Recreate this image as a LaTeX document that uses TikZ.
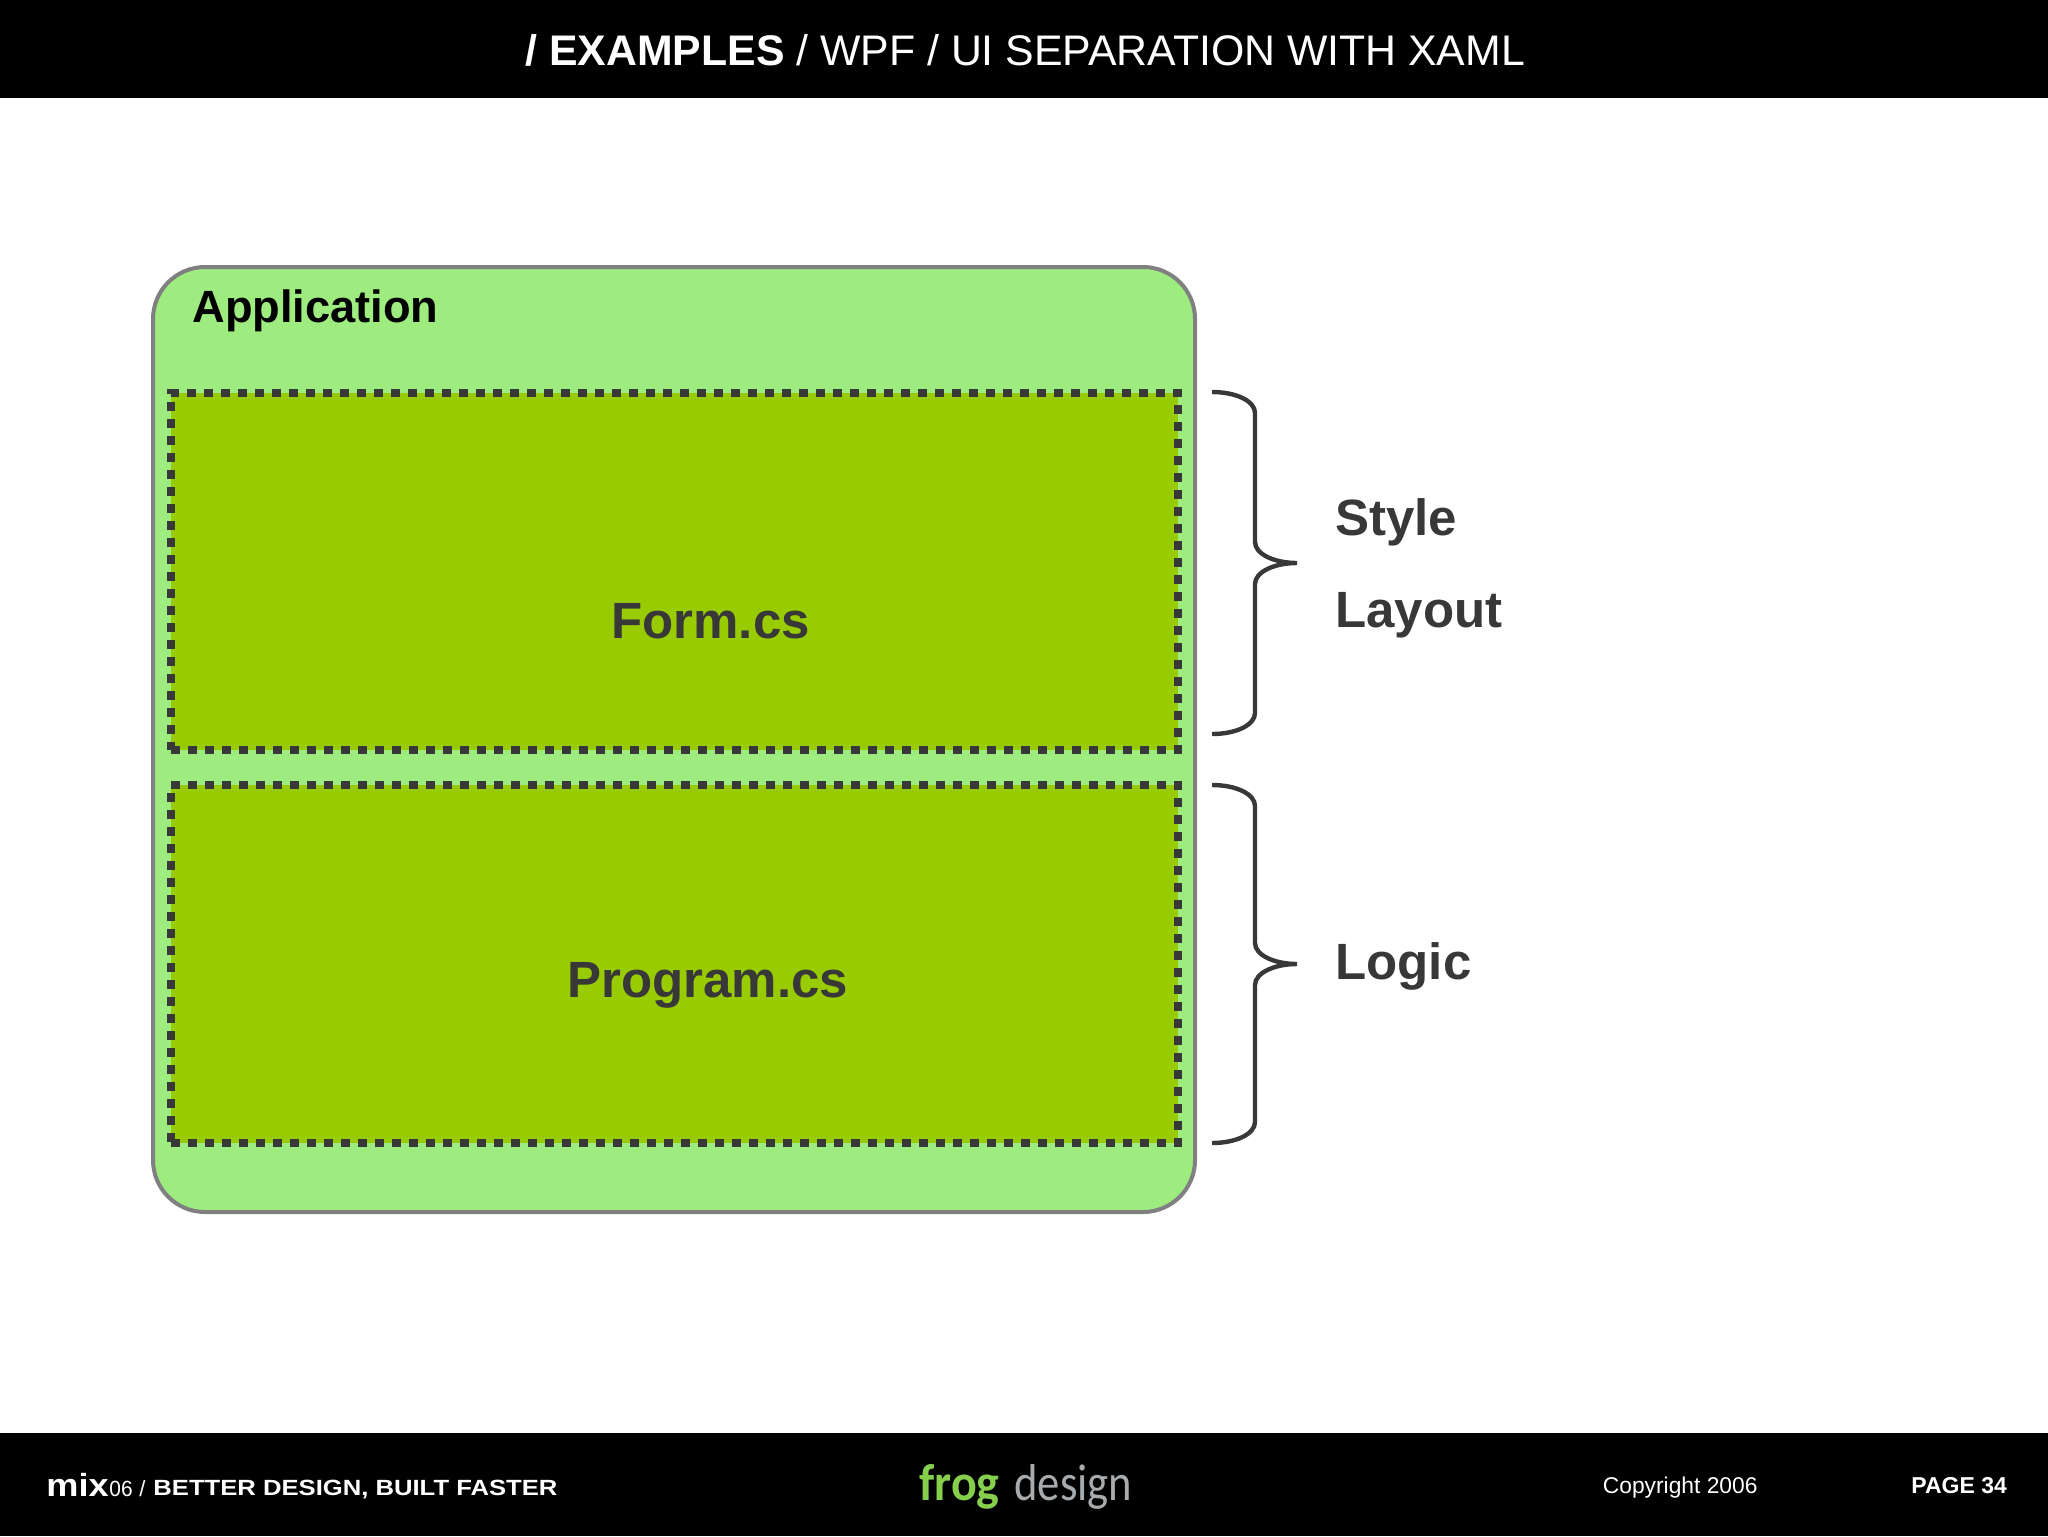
\documentclass[tikz,border=0pt]{standalone}
\usepackage{fontspec}
\setmainfont{Liberation Sans}
\newfontfamily\frogfont{Carlito}
\usepackage{xcolor}
\definecolor{appgreen}{HTML}{9EEB80}
\definecolor{filegreen}{HTML}{99CC00}
\definecolor{darkgray}{HTML}{383838}
\definecolor{framegray}{HTML}{808080}
\definecolor{froggreen}{HTML}{86CF4C}
\definecolor{designgray}{HTML}{A7ABAE}
\tikzset{
    bar/.style={fill=black,inner sep=0pt,outer sep=0pt,minimum width=1024pt},
    appbox/.style={draw=framegray,fill=appgreen,line width=2pt,rounded corners=26pt,inner sep=0pt,outer sep=0pt},
    filebox/.style={draw=darkgray,fill=filegreen,line width=4.3pt,dash pattern=on 4.4pt off 4.1pt,inner sep=0pt,outer sep=0pt},
    brace/.style={draw=darkgray,line width=2.2pt},
    big/.style={anchor=base west,inner sep=0pt,font=\bfseries\fontsize{25.5pt}{28pt}\selectfont,text=darkgray},
    foot/.style={anchor=base west,inner sep=0pt,text=white}
}
\newcommand{\sidebrace}[3]{%
    \coordinate (b#1) at (1212,#1);
    \coordinate (t#1) at (1297,#2);
    \coordinate (e#1) at (1212,#3);
    \draw[brace] (b#1) .. controls (1236,#1) and (1255,#1+9) .. (1255,#1+21)
        -- (1255,#2-21) .. controls (1255,#2-9) and (1274,#2) .. (t#1)
        .. controls (1274,#2) and (1255,#2+9) .. (1255,#2+21)
        -- (1255,#3-21) .. controls (1255,#3-9) and (1236,#3) .. (e#1);
}
\begin{document}
\begin{tikzpicture}[x=0.5pt,y=-0.5pt]
    \useasboundingbox (0,0) rectangle (2048,1536);
    % bars
    \node[bar,minimum height=49pt] (topbar) at (1024,49) {};
    \node[bar,minimum height=51.5pt] (bottombar) at (1024,1484.5) {};
    \node[anchor=base west,inner sep=0pt,text=white,font=\fontsize{21.4pt}{24pt}\selectfont] (title) at (525,66)
        {\textbf{/ EXAMPLES} / WPF / UI SEPARATION WITH XAML};

    % boxes
    \node[appbox,minimum width=521pt,minimum height=472.5pt] (app) at (674,739.5) {};
    \node[filebox,minimum width=503.5pt,minimum height=178.5pt] (form) at (674.5,571.5) {};
    \node[filebox,minimum width=503.5pt,minimum height=179pt] (program) at (674.5,964) {};
    \node[anchor=base west,inner sep=0pt,text=black,font=\bfseries\fontsize{22.6pt}{26pt}\selectfont] (applabel) at (192,322) {Application};
    \node[big] (formlabel) at (611,638) {Form.cs};
    \node[big] (programlabel) at (567,997) {Program.cs};

    % braces
    \sidebrace{392}{563}{734}
    \sidebrace{785}{964}{1143}
    \node[big] (style) at (1335,535.5) {Style};
    \node[big] (layout) at (1335,627.5) {Layout};
    \node[big] (logic) at (1335,979.5) {Logic};

    % footer
    \node[foot,font=\bfseries\fontsize{16pt}{18pt}\selectfont,xscale=1.13] (mix) at (46,1496) {mix};
    \node[foot,font=\fontsize{11pt}{12pt}\selectfont,xscale=0.95] (year) at (109,1496) {06};
    \node[foot,font=\fontsize{11pt}{12pt}\selectfont] (slash) at (139,1496) {/};
    \node[foot,font=\bfseries\fontsize{11pt}{13pt}\selectfont,xscale=1.165] (tagline) at (153,1495) {BETTER DESIGN, BUILT FASTER};
    \node[anchor=base west,inner sep=0pt,text=froggreen,font=\frogfont\bfseries\fontsize{24pt}{28pt}\selectfont,yscale=1.08] (frog) at (919,1500) {frog};
    \node[anchor=base west,inner sep=0pt,text=designgray,font=\frogfont\fontsize{24pt}{28pt}\selectfont,xscale=0.93,yscale=1.08] (design) at (1014,1500) {design};
    \node[foot,font=\fontsize{11.4pt}{13pt}\selectfont] (copyright) at (1602.5,1493) {Copyright 2006};
    \node[foot,font=\bfseries\fontsize{11.5pt}{13pt}\selectfont] (page) at (1911,1493) {PAGE 34};
\end{tikzpicture}
\end{document}
